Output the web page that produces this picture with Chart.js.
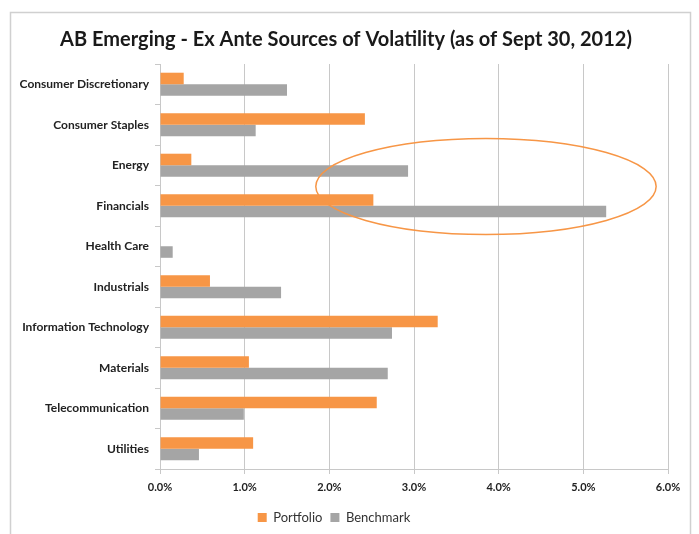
<!DOCTYPE html>
<html><head><meta charset="utf-8">
<script src="https://cdn.jsdelivr.net/npm/chart.js@4"></script>
<style>html,body{margin:0;padding:0;background:#fff;}#wrap{width:699px;height:534px;position:relative;}</style>
</head><body><div id="wrap"><canvas id="c" width="699" height="534"></canvas></div>
<script>
const categories = ["Consumer Discretionary","Consumer Staples","Energy","Financials","Health Care","Industrials","Information Technology","Materials","Telecommunication","Utilities"];
const portfolio = [0.28,2.42,0.37,2.52,0,0.59,3.28,1.05,2.56,1.10];
const benchmark = [1.50,1.13,2.93,5.27,0.15,1.43,2.74,2.69,0.99,0.46];
const xTicks = [0,1,2,3,4,5,6];
const titleText = "AB Emerging - Ex Ante Sources of Volatility (as of Sept 30, 2012)";

const decor = {
  id:'decor',
  beforeDraw(chart){
    const ctx = chart.ctx;
    ctx.save();
    ctx.fillStyle='#fff';ctx.fillRect(0,0,chart.width,chart.height);
    ctx.strokeStyle='#D0D0D0';ctx.lineWidth=1.5;
    ctx.strokeRect(10.5,12.5,680,540);
    ctx.fillStyle='#1a1a1a';
    ctx.font='bold 20px Lato, "Open Sans", sans-serif';
    ctx.textAlign='center';ctx.textBaseline='middle';
    ctx.fillText(titleText,346,40);
    ctx.restore();
  },
  afterDatasetsDraw(chart){
    const ctx=chart.ctx, xs=chart.scales.x, ys=chart.scales.y;
    const cx=xs.getPixelForValue(3.85), cy=(ys.getPixelForValue(2)+ys.getPixelForValue(3))/2+1;
    const rx=xs.getPixelForValue(5.86)-cx, ry=48;
    ctx.save();ctx.strokeStyle='#F79646';ctx.lineWidth=1.5;
    ctx.beginPath();ctx.ellipse(cx,cy,rx,ry,0,0,Math.PI*2);ctx.stroke();ctx.restore();
  }
};

new Chart(document.getElementById('c'),{
  type:'bar',
  data:{labels:categories,datasets:[
    {label:'Portfolio',data:portfolio,backgroundColor:'#F79646',barPercentage:1,categoryPercentage:0.57},
    {label:'Benchmark',data:benchmark,backgroundColor:'#A5A5A5',barPercentage:1,categoryPercentage:0.57}
  ]},
  options:{
    indexAxis:'y',responsive:false,animation:false,devicePixelRatio:1,
    layout:{padding:{top:64,right:31,left:0,bottom:0}},
    plugins:{
      title:{display:false},tooltip:{enabled:false},
      legend:{position:'bottom',labels:{boxWidth:9,boxHeight:9,font:{family:'Lato, "Open Sans", sans-serif',size:13},color:'#333',padding:8}}
    },
    scales:{
      x:{min:0,max:6,
        afterBuildTicks(s){s.ticks=xTicks.map(v=>({value:v}));},
        afterFit(s){s.height=34;},
        ticks:{callback:v=>v.toFixed(1)+'%',color:'#222',font:{family:'Lato, "Open Sans", sans-serif',size:11,weight:'bold'},padding:7},
        grid:{color:'#C8C8C8',lineWidth:1,tickLength:5,tickColor:'#C8C8C8'},
        border:{color:'#C8C8C8'}
      },
      y:{
        afterFit(s){s.width=160;},
        ticks:{color:'#222',font:{family:'Lato, "Open Sans", sans-serif',size:12,weight:'bold'},padding:6},
        grid:{drawOnChartArea:false,offset:true,tickLength:5,color:'#C8C8C8'},
        border:{color:'#C8C8C8'}
      }
    }
  },
  plugins:[decor]
});
</script></body></html>
